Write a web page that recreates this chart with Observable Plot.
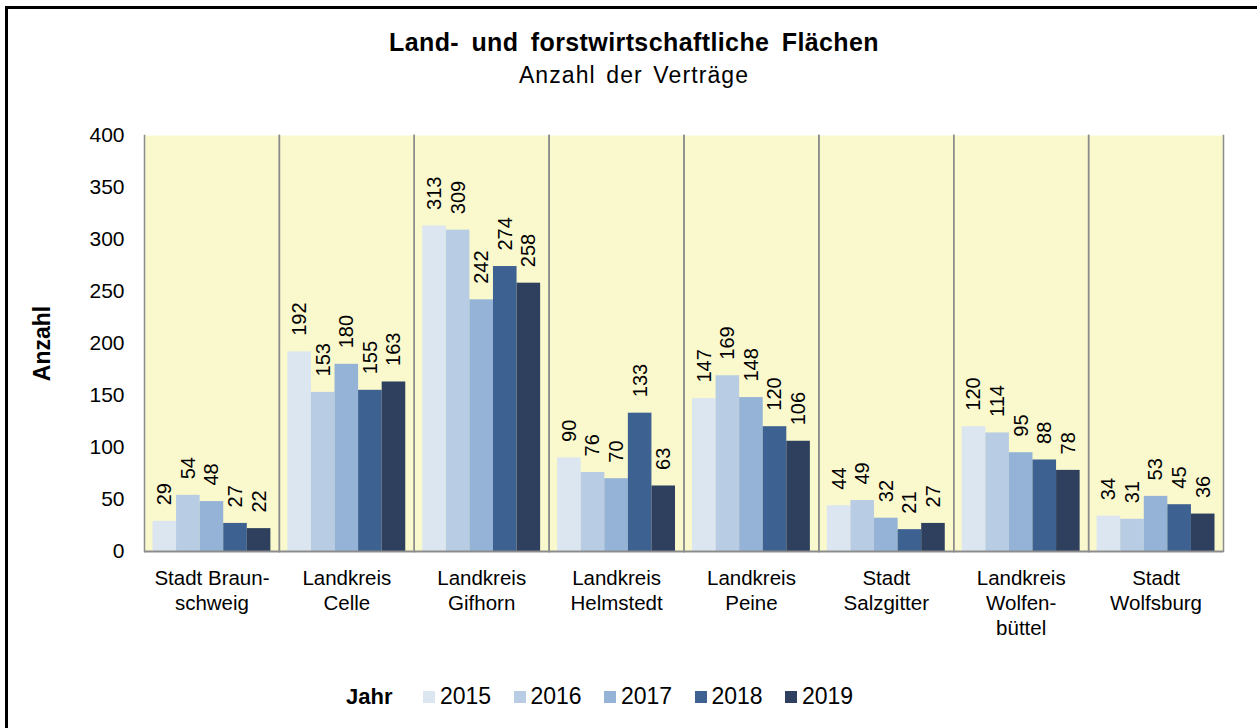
<!DOCTYPE html>
<html>
<head>
<meta charset="utf-8">
<script src="https://cdn.jsdelivr.net/npm/d3@7"></script>
<script src="https://cdn.jsdelivr.net/npm/@observablehq/plot@0.6"></script>
<style>
  html, body { margin: 0; padding: 0; background: #fff; overflow: hidden; width: 1257px; height: 728px; }
  body { position: relative; font-family: "Liberation Sans", Arial, sans-serif; color: #000; }
  #border { position: absolute; left: 5px; top: 6px; width: 1400px; height: 1000px; border: 3px solid #000; box-sizing: border-box; }
  #title { position: absolute; left: 0; width: 1268px; top: 28px; text-align: center; font-weight: bold; font-size: 25px; letter-spacing: 0.4px; word-spacing: 5px; white-space: pre; }
  #subtitle { position: absolute; left: 0; width: 1268px; top: 62px; text-align: center; font-size: 23px; letter-spacing: 1.1px; word-spacing: 3px; }
  #chart { position: absolute; left: 0; top: 110px; }
  #legend { position: absolute; left: 346px; top: 683px; display: flex; align-items: center; font-size: 23px; }
  #legend .lab { font-weight: bold; width: 77px; font-size: 22px; }
  #legend .item { display: flex; align-items: center; width: 90.5px; }
  #legend .sw { width: 12px; height: 12px; margin-right: 5px; }
</style>
</head>
<body>
<div id="border"></div>
<div id="title"></div>
<div id="subtitle"></div>
<div id="chart"></div>
<div id="legend"></div>
<script>
const titleText = "Land- und forstwirtschaftliche Flächen";
const subtitleText = "Anzahl der Verträge";
const regions = ["Stadt Braunschweig", "Landkreis Celle", "Landkreis Gifhorn", "Landkreis Helmstedt", "Landkreis Peine", "Stadt Salzgitter", "Landkreis Wolfenbüttel", "Stadt Wolfsburg"];
const regionLabels = ["Stadt Braun-\nschweig", "Landkreis\nCelle", "Landkreis\nGifhorn", "Landkreis\nHelmstedt", "Landkreis\nPeine", "Stadt\nSalzgitter", "Landkreis\nWolfen-\nbüttel", "Stadt\nWolfsburg"];
const years = ["2015", "2016", "2017", "2018", "2019"];
const v2015 = [29, 192, 313, 90, 147, 44, 120, 34];
const v2016 = [54, 153, 309, 76, 169, 49, 114, 31];
const v2017 = [48, 180, 242, 70, 148, 32, 95, 53];
const v2018 = [27, 155, 274, 133, 120, 21, 88, 45];
const v2019 = [22, 163, 258, 63, 106, 27, 78, 36];
const yearColors = ["#dce6f1", "#b8cce4", "#95b3d7", "#3d6191", "#2f405e"];
const yTicks = [0, 50, 100, 150, 200, 250, 300, 350, 400];
const yTitle = "Anzahl";
const legendTitle = "Jahr";

document.getElementById("title").textContent = titleText;
document.getElementById("subtitle").textContent = subtitleText;

const series = [v2015, v2016, v2017, v2018, v2019];
const data = [];
regions.forEach((r, i) => years.forEach((y, j) => data.push({region: r, year: y, value: series[j][i]})));
const labelMap = new Map(regions.map((r, i) => [r, regionLabels[i]]));

const plot = Plot.plot({
  width: 1257,
  height: 530,
  marginTop: 25,
  marginBottom: 89,
  marginLeft: 144,
  marginRight: 34,
  style: { fontFamily: "'Liberation Sans', Arial, sans-serif", fontSize: "20px", color: "#000", background: "transparent" },
  fx: { domain: regions, padding: 0, round: false },
  x: { domain: years, paddingInner: 0, paddingOuter: 0.36, round: false, axis: null },
  y: { domain: [0, 400] },
  color: { domain: years, range: yearColors },
  marks: [
    Plot.frame({ fill: "#faf8cd" }),
    Plot.frame({ anchor: "left", stroke: "#8c8c8c", strokeWidth: 1.5 }),
    Plot.frame({ anchor: "right", stroke: "#8c8c8c", strokeWidth: 1.5 }),
    Plot.barY(data, { fx: "region", x: "year", y: "value", fill: "year" }),
    Plot.ruleY([0], { stroke: "#8c8c8c", strokeWidth: 2 }),
    Plot.text(data, { fx: "region", x: "year", y: "value", text: d => String(d.value), rotate: -90, textAnchor: "start", dy: -16, fontSize: 20, fill: "#000" }),
    Plot.axisY({ ticks: yTicks, tickSize: 0, tickPadding: 20, fontSize: 21, label: null }),
    Plot.axisFx({ anchor: "bottom", tickSize: 0, tickPadding: 16, tickFormat: d => labelMap.get(d), fontSize: 20.5, lineHeight: 1.22, label: null }),
    Plot.text([yTitle], { fx: () => regions[0], frameAnchor: "left", textAnchor: "middle", dx: -102, rotate: -90, fontWeight: "bold", fontSize: 23, fill: "#000" })
  ]
});
document.getElementById("chart").appendChild(plot);

const legend = document.getElementById("legend");
const lab = document.createElement("div");
lab.className = "lab";
lab.textContent = legendTitle;
legend.appendChild(lab);
years.forEach((y, i) => {
  const it = document.createElement("div");
  it.className = "item";
  const sw = document.createElement("div");
  sw.className = "sw";
  sw.style.background = yearColors[i];
  const t = document.createElement("span");
  t.textContent = y;
  it.appendChild(sw);
  it.appendChild(t);
  legend.appendChild(it);
});
</script>
</body>
</html>
